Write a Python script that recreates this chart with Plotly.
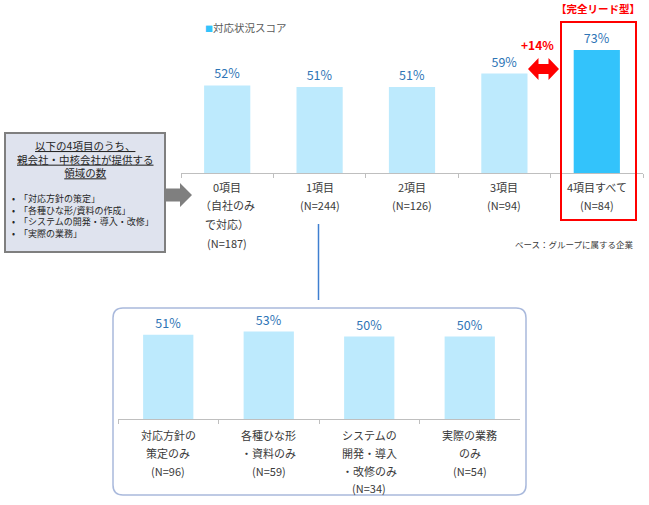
import plotly.graph_objects as go

W, H = 649, 505

# ---------------- data ----------------
top_categories = ["0項目", "1項目", "2項目", "3項目", "4項目すべて"]
top_scores = [52, 51, 51, 59, 73]
top_label_lines = [
    ["0項目", "（自社のみ", "で対応）", "(N=187)"],
    ["1項目", "(N=244)"],
    ["2項目", "(N=126)"],
    ["3項目", "(N=94)"],
    ["4項目すべて", "(N=84)"],
]

bottom_categories = ["対応方針の策定のみ", "各種ひな形・資料のみ", "システムの開発・導入・改修のみ", "実際の業務のみ"]
bottom_scores = [51, 53, 50, 50]
bottom_label_lines = [
    ["対応方針の", "策定のみ", "(N=96)"],
    ["各種ひな形", "・資料のみ", "(N=59)"],
    ["システムの", "開発・導入", "・改修のみ", "(N=34)"],
    ["実際の業務", "のみ", "(N=54)"],
]

legend_name = "対応状況スコア"
box_title_lines = ["以下の4項目のうち、", "親会社・中核会社が提供する", "領域の数"]
box_bullets = ["「対応方針の策定」", "「各種ひな形/資料の作成」", "「システムの開発・導入・改修」", "「実際の業務」"]
highlight_title = "【完全リード型】"
diff_label = "+14%"
base_note = "ベース：グループに属する企業"

# ---------------- style ----------------
FONT = "Noto Sans CJK JP"
LIGHT = "#bdeafd"
BRIGHT = "#33c3fb"
PCT = "#2e75b6"
TXT = "#3a3a3a"
RED = "#ff0000"


def X(px):
    return px / W


def Y(py):
    return 1 - py / H


top_colors = [LIGHT] * (len(top_scores) - 1) + [BRIGHT]

fig = go.Figure()
fig.add_trace(go.Bar(
    x=top_categories, y=top_scores, xaxis="x", yaxis="y",
    marker=dict(color=top_colors, line=dict(width=0)), width=0.5,
    text=[f"{v}%" for v in top_scores], textposition="outside",
    textfont=dict(family=FONT, size=12.5, color=PCT), constraintext="none",
    cliponaxis=False, showlegend=False, hoverinfo="skip", name=legend_name,
))
fig.add_trace(go.Bar(
    x=bottom_categories, y=bottom_scores, xaxis="x2", yaxis="y2",
    marker=dict(color=LIGHT, line=dict(width=0)), width=0.5,
    text=[f"{v}%" for v in bottom_scores], textposition="outside",
    textfont=dict(family=FONT, size=12.5, color=PCT), constraintext="none",
    cliponaxis=False, showlegend=False, hoverinfo="skip",
))

axis_common = dict(showgrid=False, zeroline=False, showticklabels=False)

fig.update_layout(
    width=W, height=H, margin=dict(l=0, r=0, t=0, b=0),
    paper_bgcolor="white", plot_bgcolor="rgba(0,0,0,0)",
    font=dict(family=FONT, size=10, color=TXT),
    bargap=0.5,
    xaxis=dict(domain=[X(181), X(643)], type="category", range=[-0.5, 4.5],
               showline=True, linecolor="#bfbfbf", linewidth=1,
               ticks="outside", tickson="boundaries", ticklen=4, tickcolor="#bfbfbf",
               anchor="y", **axis_common),
    yaxis=dict(domain=[Y(173), Y(4.5)], range=[0, 100], visible=False, anchor="x"),
    xaxis2=dict(domain=[X(118), X(520)], type="category", range=[-0.5, 3.5],
                showline=True, linecolor="#bfbfbf", linewidth=1,
                ticks="outside", tickson="boundaries", ticklen=4, tickcolor="#bfbfbf",
                anchor="y2", **axis_common),
    yaxis2=dict(domain=[Y(419), Y(254)], range=[0, 100], visible=False, anchor="x2"),
)

ann = []
# category labels (top)
top_line_y = [187, 205.5, 224, 242.5]
for cat, lines in zip(top_categories, top_label_lines):
    for i, ln in enumerate(lines):
        ann.append(dict(x=cat, xref="x", y=Y(top_line_y[i]), yref="paper",
                        text=ln, showarrow=False, xanchor="center", yanchor="middle",
                        font=dict(size=11, color=TXT)))
# category labels (bottom)
bot_line_y = [435, 453, 470.5, 488]
for cat, lines in zip(bottom_categories, bottom_label_lines):
    for i, ln in enumerate(lines):
        ann.append(dict(x=cat, xref="x2", y=Y(bot_line_y[i]), yref="paper",
                        text=ln, showarrow=False, xanchor="center", yanchor="middle",
                        font=dict(size=11, color=TXT)))
# legend
ann.append(dict(x=X(203), y=Y(27), xref="paper", yref="paper", xanchor="left", yanchor="middle",
                text=f'<span style="color:{BRIGHT};font-size:8px">■</span>{legend_name}', showarrow=False,
                font=dict(size=10.5, color="#595959")))
# highlight title
ann.append(dict(x=X(598), y=Y(8.5), xref="paper", yref="paper", xanchor="center", yanchor="middle",
                text=f"<b>{highlight_title}</b>", showarrow=False, font=dict(size=10.5, color=RED)))
# +14%
ann.append(dict(x=X(537), y=Y(45), xref="paper", yref="paper", xanchor="center", yanchor="middle",
                text=f"<b>{diff_label}</b>", showarrow=False, font=dict(size=12, color=RED)))
# base note
ann.append(dict(x=X(636), y=Y(244), xref="paper", yref="paper", xanchor="right", yanchor="middle",
                text=base_note, showarrow=False, font=dict(size=8.5, color=TXT)))
# left box text
ann.append(dict(x=X(85), y=Y(159), xref="paper", yref="paper", xanchor="center", yanchor="middle",
                text="<br>".join(f"<u>{ln}</u>" for ln in box_title_lines), showarrow=False,
                align="center", font=dict(size=10.5, color="#262626")))
ann.append(dict(x=X(10), y=Y(216), xref="paper", yref="paper", xanchor="left", yanchor="middle",
                text="<br>".join(f"•  {ln}" for ln in box_bullets), showarrow=False,
                align="left", font=dict(size=9, color="#262626")))
fig.update_layout(annotations=ann)


def path(points):
    return "M " + " L ".join(f"{X(a):.5f},{Y(b):.5f}" for a, b in points) + " Z"


shapes = []
# left explanation box
shapes.append(dict(type="rect", xref="paper", yref="paper", x0=X(5), x1=X(165), y0=Y(252), y1=Y(133),
                   fillcolor="#dfe3ee", line=dict(color="#7f7f7f", width=2), layer="below"))
# gray arrow
shapes.append(dict(type="path", xref="paper", yref="paper",
                   path=path([(166, 188.5), (180, 188.5), (180, 183), (192, 195), (180, 207), (180, 201.5), (166, 201.5)]),
                   fillcolor="#7f7f7f", line=dict(width=0)))
# red highlight box
shapes.append(dict(type="rect", xref="paper", yref="paper", x0=X(561), x1=X(636), y0=Y(220), y1=Y(22),
                   line=dict(color=RED, width=2), fillcolor="rgba(0,0,0,0)"))
# red double arrow
shapes.append(dict(type="path", xref="paper", yref="paper",
                   path=path([(528, 69), (538.5, 58), (538.5, 64), (548.5, 64), (548.5, 58), (559, 69),
                              (548.5, 80), (548.5, 74), (538.5, 74), (538.5, 80)]),
                   fillcolor=RED, line=dict(width=0)))
# connector line
shapes.append(dict(type="line", xref="paper", yref="paper", x0=X(318.5), x1=X(318.5), y0=Y(224), y1=Y(300),
                   line=dict(color="#3f7fd0", width=1.5)))
# rounded panel
x0, x1, y0, y1, r = X(113), X(526), Y(495), Y(308), 10
rx, ry = r / W, r / H
panel = (f"M {x0+rx},{y1} L {x1-rx},{y1} Q {x1},{y1} {x1},{y1-ry} L {x1},{y0+ry} "
         f"Q {x1},{y0} {x1-rx},{y0} L {x0+rx},{y0} Q {x0},{y0} {x0},{y0+ry} "
         f"L {x0},{y1-ry} Q {x0},{y1} {x0+rx},{y1} Z")
shapes.append(dict(type="path", xref="paper", yref="paper", path=panel,
                   line=dict(color="#a9b9dc", width=1.5), fillcolor="rgba(0,0,0,0)"))
fig.update_layout(shapes=shapes)

fig.write_html("out.html", config={"displayModeBar": False},
               post_script="document.body.style.margin='0px';document.body.style.overflow='hidden';")
